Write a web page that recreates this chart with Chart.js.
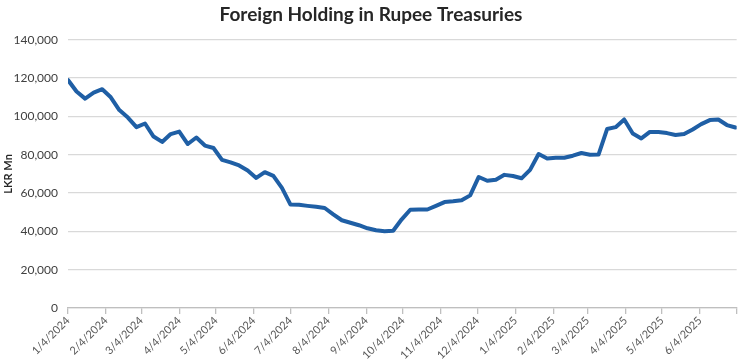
<!DOCTYPE html>
<html>
<head>
  <title>Foreign Holding in Rupee Treasuries</title>
  <script src="https://cdn.jsdelivr.net/npm/chart.js@4.4.1/dist/chart.umd.min.js"></script>
  <style>
    body { margin: 0; background: #fff; }
  </style>
</head>
<body>
  <canvas id="holdingChart" width="746" height="360"></canvas>

  <script>
    // weekly observation dates
    const dates = [
      '2024-01-04','2024-01-11','2024-01-18','2024-01-25','2024-02-01','2024-02-08','2024-02-15','2024-02-22','2024-02-29',
      '2024-03-07','2024-03-14','2024-03-21','2024-03-28','2024-04-04','2024-04-11','2024-04-18','2024-04-25',
      '2024-05-02','2024-05-09','2024-05-16','2024-05-23','2024-05-30','2024-06-06','2024-06-13','2024-06-20','2024-06-27',
      '2024-07-04','2024-07-11','2024-07-18','2024-07-25','2024-08-01','2024-08-08','2024-08-15','2024-08-22','2024-08-29',
      '2024-09-05','2024-09-12','2024-09-19','2024-09-26','2024-10-03','2024-10-10','2024-10-17','2024-10-24','2024-10-31',
      '2024-11-07','2024-11-14','2024-11-21','2024-11-28','2024-12-05','2024-12-12','2024-12-19','2024-12-26',
      '2025-01-02','2025-01-09','2025-01-16','2025-01-23','2025-01-30','2025-02-06','2025-02-13','2025-02-20','2025-02-27',
      '2025-03-06','2025-03-13','2025-03-20','2025-03-27','2025-04-03','2025-04-10','2025-04-17','2025-04-24',
      '2025-05-01','2025-05-08','2025-05-15','2025-05-22','2025-05-29','2025-06-05','2025-06-12','2025-06-19','2025-06-26',
      '2025-07-03'
    ];

    // LKR Mn
    const holdings = [
      119000,113000,109300,112400,114200,110000,103300,99400,94400,96300,
      89500,86700,90800,92100,85600,89000,84800,83500,77300,76000,
      74400,71800,67900,70900,69000,62700,54000,53900,53300,52800,
      52200,48900,45800,44500,43200,41600,40600,40100,40300,46300,
      51300,51400,51400,53300,55300,55700,56200,58800,68400,66400,
      67000,69500,68900,67700,72100,80400,78000,78400,78400,79500,
      80900,80000,80100,93400,94400,98400,91100,88500,91900,91900,
      91300,90300,90800,93200,96000,98100,98400,95500,94200
    ];

    const tickLabels = [
      '1/4/2024','2/4/2024','3/4/2024','4/4/2024','5/4/2024','6/4/2024','7/4/2024','8/4/2024','9/4/2024',
      '10/4/2024','11/4/2024','12/4/2024','1/4/2025','2/4/2025','3/4/2025','4/4/2025','5/4/2025','6/4/2025'
    ];
    const axisEnd = '7/4/2025';

    const yTicks = [0, 20000, 40000, 60000, 80000, 100000, 120000, 140000];

    // day numbers counted from the first date
    const origin = Date.UTC(2024, 0, 4);
    function dayFromIso(s) {
      let p = s.split('-').map(Number);
      return (Date.UTC(p[0], p[1] - 1, p[2]) - origin) / 86400000;
    }
    function dayFromLabel(s) {
      let p = s.split('/').map(Number);
      return (Date.UTC(p[2], p[0] - 1, p[1]) - origin) / 86400000;
    }

    let points = dates.map((d, i) => ({ x: dayFromIso(d), y: holdings[i] }));
    let tickDays = tickLabels.map(dayFromLabel);
    let endDay = dayFromLabel(axisEnd);

    var ctx = document.getElementById('holdingChart').getContext('2d');
    new Chart(ctx, {
      type: 'line',
      data: {
        datasets: [{
          data: points,
          borderColor: '#1f5fa5',
          borderWidth: 4,
          pointRadius: 0,
          tension: 0,
          borderJoinStyle: 'round',
          borderCapStyle: 'round'
        }]
      },
      options: {
        responsive: false,
        animation: false,
        layout: { padding: { left: 2, right: 6, top: 0, bottom: 0 } },
        plugins: {
          legend: { display: false },
          tooltip: { enabled: false },
          title: {
            display: true,
            text: 'Foreign Holding in Rupee Treasuries',
            color: '#262626',
            font: { family: 'Lato', size: 19, weight: 'bold' },
            padding: { top: 3, bottom: 14 }
          }
        },
        scales: {
          x: {
            type: 'linear',
            min: 0,
            max: endDay,
            afterBuildTicks: function(scale) {
              scale.ticks = tickDays.concat([endDay]).map(v => ({ value: v }));
            },
            afterFit: function(scale) { scale.height = 52; },
            ticks: {
              autoSkip: false,
              minRotation: 45,
              maxRotation: 45,
              color: '#595959',
              font: { family: 'Lato', size: 11 },
              padding: 0,
              callback: function(value) {
                let i = tickDays.indexOf(value);
                return i >= 0 ? tickLabels[i] : '';
              }
            },
            grid: { drawOnChartArea: false, tickLength: 6, color: '#bfbfbf', lineWidth: 1.3 },
            border: { color: '#bfbfbf', width: 1.3 }
          },
          y: {
            min: 0,
            max: 140000,
            afterBuildTicks: function(scale) {
              scale.ticks = yTicks.map(v => ({ value: v }));
            },
            afterFit: function(scale) { scale.width = 66; },
            ticks: {
              color: '#404040',
              font: { family: 'Lato', size: 12 },
              padding: 10,
              callback: v => v.toLocaleString('en-US')
            },
            title: {
              display: true,
              text: 'LKR Mn',
              color: '#262626',
              font: { family: 'Lato', size: 11, weight: 'bold' },
              padding: 0
            },
            grid: { color: '#d9d9d9', lineWidth: 1.3, drawTicks: false },
            border: { display: false }
          }
        }
      }
    });
  </script>
</body>
</html>
